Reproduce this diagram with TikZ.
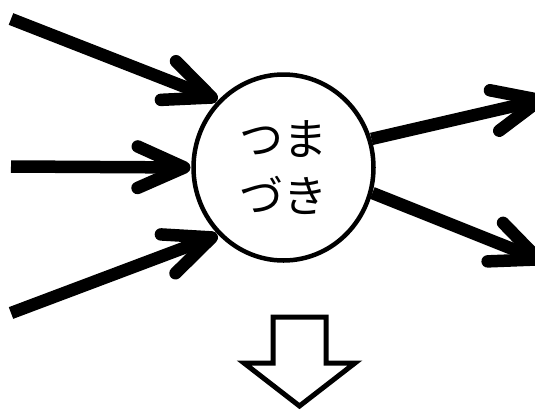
\documentclass[tikz,border=0pt]{standalone}
\usepackage{fontspec}
\newfontfamily\jpfont{Noto Sans CJK JP}
\usetikzlibrary{shapes.geometric,calc}
\tikzset{
  flow/.style={line width=12.5pt, line cap=butt},
  barb/.style={line width=12.5pt, line cap=round, line join=round},
  hub/.style={ellipse, draw, line width=4.5pt, minimum width=180pt, minimum height=186pt, inner sep=0pt,
    align=center, font=\jpfont\fontsize{44}{57}\selectfont},
  hollow/.style={draw, line width=5pt, line join=miter, fill=white}
}
\begin{document}
\begin{tikzpicture}[x=1pt,y=-1pt]
\useasboundingbox (0,0) rectangle (535,413);
\node[hub] (c) at (283.5,167.5) {つま\\づき};
% incoming arrows
\coordinate (s1) at (11,19);
\coordinate (s2) at (11,166.5);
\coordinate (s3) at (11,313);
\coordinate (t1) at ($(c.134)!7pt!(s1)$);
\coordinate (t2) at ($(c.180)!7pt!(s2)$);
\coordinate (t3) at ($(c.226)!7pt!(s3)$);
\foreach \i in {1,2,3}{
  \draw[flow] (s\i) -- (t\i);
  \draw[barb] ($(t\i)!51pt!24:(s\i)$) -- (t\i) -- ($(t\i)!51pt!-24:(s\i)$);
}
% outgoing arrows
\coordinate (o1) at (540,100);
\coordinate (o2) at (538.6,259.4);
\coordinate (r1) at (c.18.5);
\coordinate (r2) at (c.-16);
\foreach \i in {1,2}{
  \draw[flow] (r\i) -- (o\i);
  \draw[barb] ($(o\i)!51pt!24:(r\i)$) -- (o\i) -- ($(o\i)!51pt!-24:(r\i)$);
}
% hollow down arrow
\draw[hollow] (273,317) -- (326,317) -- (326,363) -- (355,363) -- (299.5,406) -- (244,363) -- (273,363) -- cycle;
\end{tikzpicture}
\end{document}
